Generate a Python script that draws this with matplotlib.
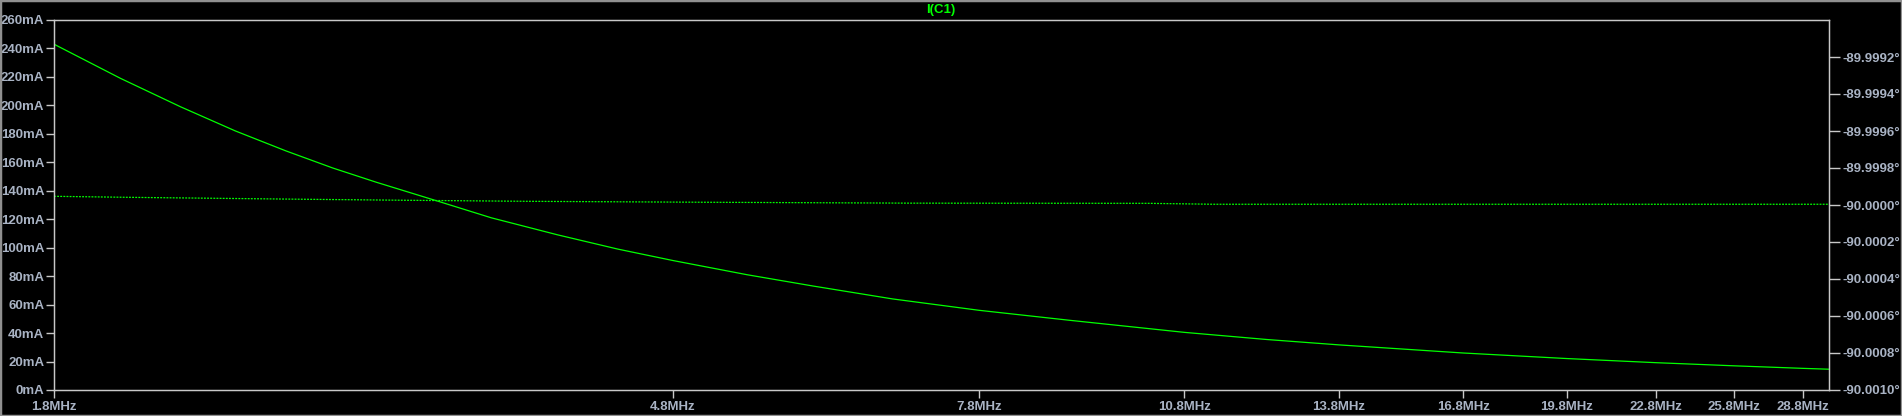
import matplotlib.pyplot as plt
from matplotlib.ticker import FixedLocator, FixedFormatter
from matplotlib.patches import Rectangle

# values (frequency in MHz)
freq_mhz = [1.8, 2.0, 2.2, 2.4, 2.6, 2.8, 3.0, 3.3, 3.6, 4.0, 4.4, 4.8, 5.4, 6.0,
            6.8, 7.8, 9.0, 10.8, 12.3, 13.8, 16.8, 19.8, 22.8, 25.8, 28.8, 30.0]
current_ma = [243, 219, 199, 182, 168, 156, 146, 133, 121, 109, 99, 91, 81, 73,
              64, 56, 49, 40.5, 35.5, 31.7, 26, 22.1, 19.2, 17, 15.2, 14.6]

phase_freq_mhz = [1.8, 2.0, 2.6, 3.1, 3.8, 5.0, 7.0, 10.2, 11.3, 30.0]
phase_deg = [-89.999953, -89.999958, -89.999968, -89.999974, -89.99998,
             -89.999985, -89.99999, -89.999991, -89.999996, -89.999996]

x_ticks = [1.8, 4.8, 7.8, 10.8, 13.8, 16.8, 19.8, 22.8, 25.8, 28.8]
x_labels = [f"{v}MHz" for v in x_ticks]
y_ticks = list(range(0, 261, 20))
y_labels = [f"{v}mA" for v in y_ticks]
phase_ticks = [-90.0010, -90.0008, -90.0006, -90.0004, -90.0002, -90.0000,
               -89.9998, -89.9996, -89.9994, -89.9992]
phase_labels = [f"{v:.4f}°" for v in phase_ticks]

green = "#00ff00"
grey = "#c8c8c8"
label_col = "#a9b3c4"
plt.rcParams["font.family"] = ["Liberation Sans", "DejaVu Sans"]

fig = plt.figure(figsize=(19.02, 4.16), dpi=100, facecolor="black")
fig.patches.append(Rectangle((0, 0), 1, 1, transform=fig.transFigure, fill=False,
                             edgecolor="#909090", linewidth=2.5))
ax = fig.add_axes([54 / 1902, 26 / 416, 1775 / 1902, 370 / 416])
ax.set_facecolor("black")

ax.plot(freq_mhz, current_ma, color=green, linewidth=0.9)
ax.set_xscale("log")
ax.set_xlim(1.8, 30.0)
ax.set_ylim(0, 260)

ax.xaxis.set_major_locator(FixedLocator(x_ticks))
ax.xaxis.set_major_formatter(FixedFormatter(x_labels))
ax.xaxis.set_minor_locator(FixedLocator([]))
ax.yaxis.set_major_locator(FixedLocator(y_ticks))
ax.yaxis.set_major_formatter(FixedFormatter(y_labels))

for s in ax.spines.values():
    s.set_color(grey)
    s.set_linewidth(1.0)
ax.tick_params(axis="both", colors=grey, labelcolor=label_col, labelsize=9.5,
               length=6, width=1.0, direction="out")
ax.tick_params(axis="x", pad=2)
ax.tick_params(axis="y", pad=1)
for t in ax.get_xticklabels() + ax.get_yticklabels():
    t.set_fontweight("bold")

ax2 = ax.twinx()
ax2.plot(phase_freq_mhz, phase_deg, color=green, linewidth=0.9, linestyle=(0, (1.5, 1.0)))
ax2.set_ylim(-90.0010, -89.9990)
ax2.set_xlim(1.8, 30.0)
ax2.yaxis.set_major_locator(FixedLocator(phase_ticks))
ax2.yaxis.set_major_formatter(FixedFormatter(phase_labels))
ax2.tick_params(axis="y", colors=grey, labelcolor=label_col, labelsize=9.5,
                length=8, width=1.0, direction="out", pad=2)
for t in ax2.get_yticklabels():
    t.set_fontweight("bold")
for s in ax2.spines.values():
    s.set_color(grey)

fig.text(941 / 1902, 1 - 10 / 416, "I(C1)", color=green, fontsize=9.5,
         fontweight="bold", ha="center", va="center")

fig.savefig("out.png", dpi=100, facecolor="black")
